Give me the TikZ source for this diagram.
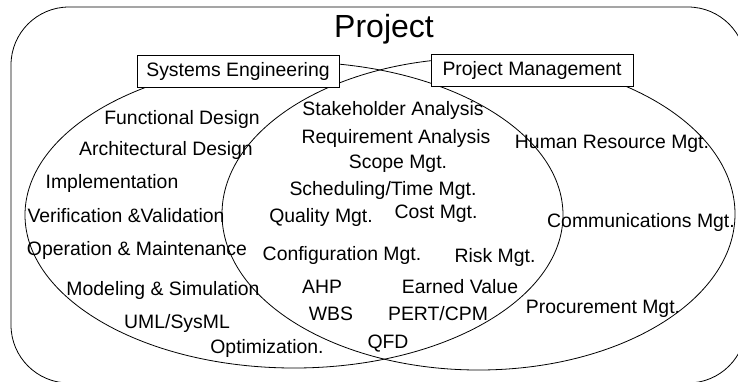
\documentclass[tikz,border=0pt]{standalone}
\usepackage{fontspec}
\setmainfont{Liberation Sans}
\begin{document}
\begin{tikzpicture}[x=1pt,y=-1pt,
  lbl/.style={anchor=base,inner sep=0pt,font=\fontsize{19.4}{23}\selectfont},
  areabox/.style={draw,fill=white,line width=0.8pt,minimum width=202pt,minimum height=32pt,inner sep=0pt,font=\fontsize{19.4}{23}\selectfont},
  shape line/.style={line width=0.8pt}]
\useasboundingbox (0,0) rectangle (738,381);
\clip (0,0) rectangle (738,381);
% outer project frame
\draw[shape line,rounded corners=58pt] (11,7) rectangle (746,383);
\node[lbl,font=\fontsize{32}{36}\selectfont] (project) at (384,37) {Project};
% ellipses
\draw[shape line] (294,215) ellipse [x radius=269pt, y radius=153pt];
\draw[shape line] (478.5,214) ellipse [x radius=256.5pt, y radius=156pt];
% boxes
\node[areabox] (se) at (238,71) {Systems Engineering};
\node[areabox] (pm) at (532,70.5) {Project Management};
% SE only
\node[lbl] (fd) at (182,124) {Functional Design};
\node[lbl] (ad) at (166,155) {Architectural Design};
\node[lbl] (impl) at (112,188) {Implementation};
\node[lbl] (vv) at (126,222) {Verification \&Validation};
\node[lbl] (om) at (137,255) {Operation \& Maintenance};
\node[lbl] (ms) at (163,295) {Modeling \& Simulation};
\node[lbl] (uml) at (177,328) {UML/SysML};
\node[lbl] (opt) at (267,353) {Optimization.};
% overlap
\node[lbl] (sa) at (393,115) {Stakeholder Analysis};
\node[lbl] (ra) at (396,143) {Requirement Analysis};
\node[lbl] (scope) at (398,168) {Scope Mgt.};
\node[lbl] (sched) at (383,195) {Scheduling/Time Mgt.};
\node[lbl] (qual) at (321,222) {Quality Mgt.};
\node[lbl] (cost) at (436,218) {Cost Mgt.};
\node[lbl] (conf) at (342,260) {Configuration Mgt.};
\node[lbl] (risk) at (495,262) {Risk Mgt.};
\node[lbl] (ahp) at (322,293) {AHP};
\node[lbl] (ev) at (460,293) {Earned Value};
\node[lbl] (wbs) at (331,320) {WBS};
\node[lbl] (pert) at (438,320) {PERT/CPM};
\node[lbl] (qfd) at (388,348) {QFD};
% PM only
\node[lbl] (hr) at (612,148) {Human Resource Mgt.};
\node[lbl] (comm) at (641,227) {Communications Mgt.};
\node[lbl] (proc) at (603,313) {Procurement Mgt.};
\end{tikzpicture}
\end{document}
